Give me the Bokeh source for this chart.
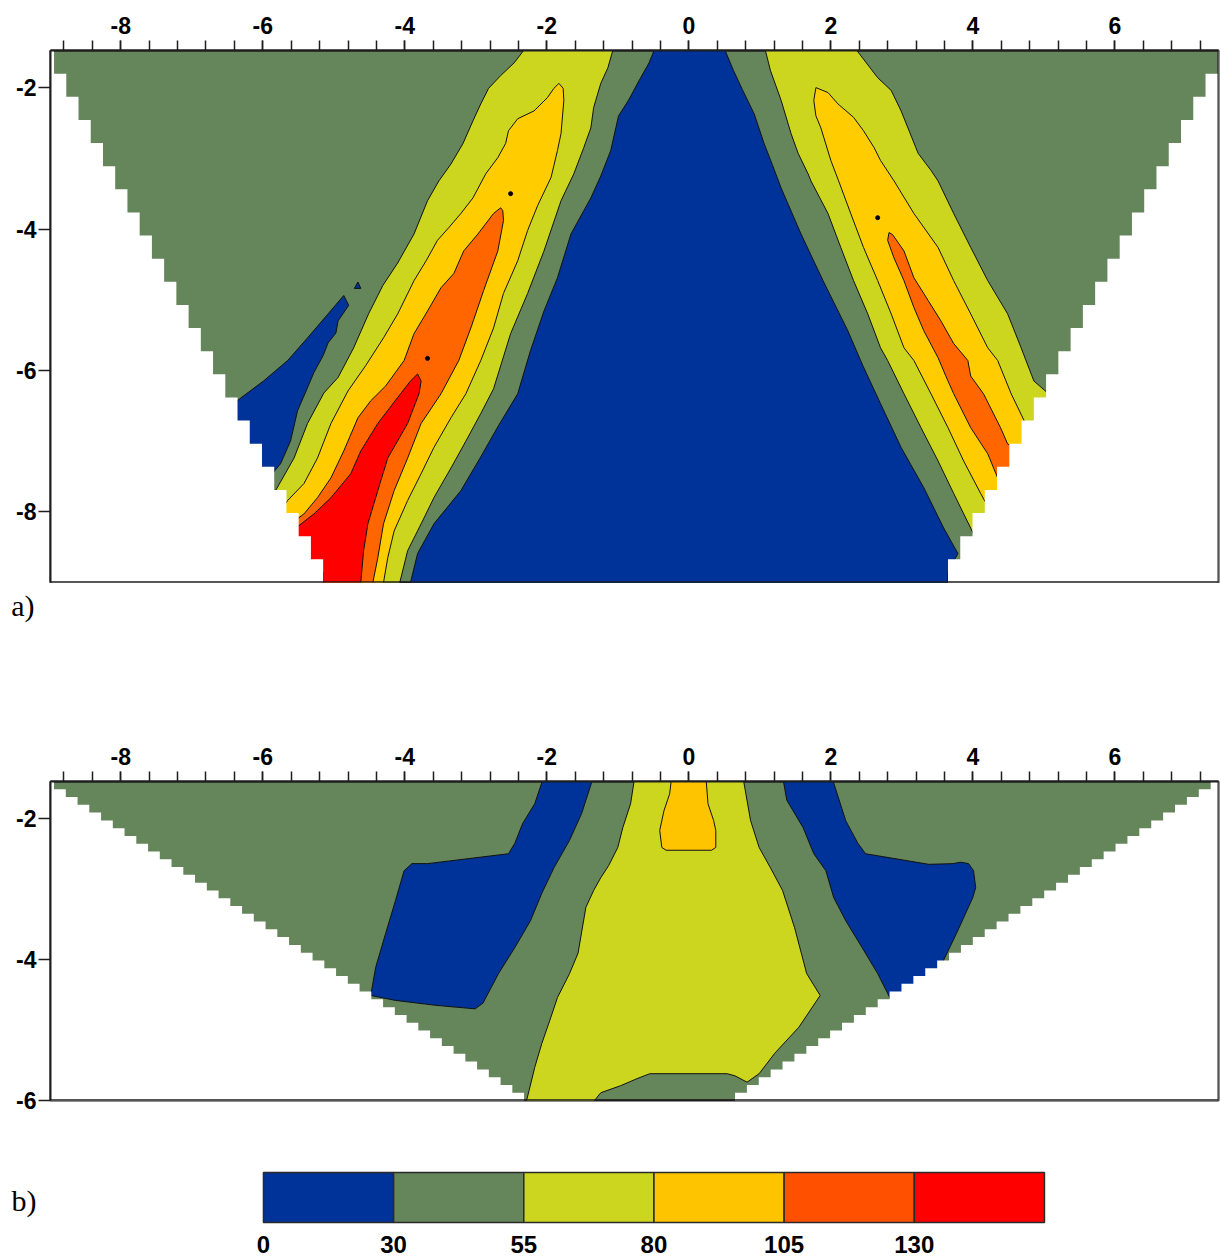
import numpy as np
from bokeh.plotting import figure
from bokeh.models import Range1d, SingleIntervalTicker, FixedTicker, Span
from bokeh.layouts import column
from bokeh.embed import file_html
from bokeh.resources import INLINE
from bokeh.core.properties import value

# ---------------- colours (class colours of the resistivity scale) ----------------
C_BLUE = "#003399"
C_GREEN = "#65855A"
C_YG = "#CCD61E"
C_YEL = "#FFCC00"
C_ORG = "#FF6600"
C_RED = "#FF0000"
CB_COLORS = ["#003399", "#65855A", "#CCD61E", "#FFC400", "#FF5000", "#FF0000"]
CB_LABELS = ["0", "30", "55", "80", "105", "130"]
CAPTIONS = ["a)", "b)"]

# ---------------- axes ----------------
X_RANGE = (-8.99, 7.46)
X_TICKS = [-8, -6, -4, -2, 0, 2, 4, 6]
X_TICK_LABELS = ["-8", "-6", "-4", "-2", "0", "2", "4", "6"]
A_Y_RANGE = (-9.0, -1.475)
A_Y_TICKS = [-8, -6, -4, -2]
A_Y_LABELS = ["-8", "-6", "-4", "-2"]
B_Y_RANGE = (-6.0, -1.475)
B_Y_TICKS = [-6, -4, -2]
B_Y_LABELS = ["-6", "-4", "-2"]

# ---------------- pseudosection domain corners (top, bottom) ----------------
A_DOM_LEFT = ((-8.94, -1.475), (-5.15, -9.0))
A_DOM_RIGHT = ((7.45, -1.475), (3.65, -9.0))
B_DOM_LEFT = ((-8.94, -1.475), (-2.32, -6.0))
B_DOM_RIGHT = ((7.35, -1.475), (0.65, -6.0))

# ---------------- panel a) contour regions ----------------
a_blue_x = [-0.46, -0.56, -0.70, -0.85, -0.99, -1.10, -1.24, -1.38, -1.66, -1.85,
            -2.04, -2.23, -2.41, -2.68, -2.94, -3.21, -3.59, -3.82, -3.92, -3.96,
            3.65, 3.65, 3.79, 3.59, 3.31, 2.99, 2.70, 2.45, 2.24, 1.89,
            1.58, 1.30, 1.18, 1.06, 0.92, 0.76, 0.63, 0.48]
a_blue_y = [-1.40, -1.65, -1.90, -2.18, -2.40, -2.89, -3.25, -3.56, -4.07, -4.69,
            -5.16, -5.72, -6.33, -6.78, -7.24, -7.70, -8.17, -8.59, -9.00, -9.20,
            -9.20, -8.85, -8.59, -8.23, -7.66, -7.09, -6.47, -5.93, -5.44, -4.73,
            -4.07, -3.42, -3.10, -2.79, -2.37, -2.04, -1.76, -1.40]

a_ygL_x = [-2.27, -2.46, -2.65, -2.82, -2.93, -3.04, -3.18, -3.35, -3.52, -3.68,
           -3.87, -4.10, -4.31, -4.51, -4.72, -4.94, -5.14, -5.37, -5.56, -5.82,
           -6.17, -5.15, -5.15,
           -4.12, -3.96, -3.77, -3.59, -3.35, -3.14, -2.93, -2.75,
           -2.51, -2.27, -2.04, -1.80, -1.62, -1.48, -1.38, -1.34, -1.24, -1.14, -1.05]
a_ygL_y = [-1.40, -1.65, -1.83, -2.01, -2.23, -2.47, -2.79, -3.08, -3.32, -3.60,
           -4.07, -4.48, -4.80, -5.20, -5.68, -6.10, -6.32, -6.75, -7.24, -7.70,
           -8.27, -8.85, -9.20,
           -9.20, -8.55, -8.17, -7.80, -7.38, -7.00, -6.61, -6.26,
           -5.48, -4.91, -4.31, -3.60, -3.22, -2.85, -2.57, -2.28, -1.94, -1.72, -1.40]

a_yelL_x = [-1.83, -1.90, -1.99, -2.18, -2.41, -2.54, -2.58, -2.69, -2.86, -3.04,
            -3.21, -3.38, -3.54, -3.70, -3.87, -4.10, -4.30, -4.55, -4.80, -5.04,
            -5.23, -5.42, -5.65, -6.03, -5.15, -5.15,
            -4.32, -4.30, -4.24, -4.15, -3.96,
            -3.77, -3.59, -3.35, -3.14, -2.93, -2.75, -2.61, -2.41, -2.27, -2.13,
            -1.94, -1.85, -1.80, -1.76, -1.77]
a_yelL_y = [-1.94, -2.01, -2.14, -2.33, -2.44, -2.61, -2.79, -2.99, -3.22, -3.56,
            -3.78, -3.98, -4.16, -4.45, -4.73, -5.20, -5.54, -5.93, -6.29, -6.75,
            -7.24, -7.60, -7.84, -8.41, -8.85, -9.20,
            -9.20, -9.00, -8.65, -8.27, -7.84,
            -7.46, -7.09, -6.67, -6.33, -5.86, -5.40, -4.91, -4.45, -4.02, -3.67,
            -3.27, -2.89, -2.65, -2.18, -2.01]

a_orgL_x = [-2.65, -2.75, -2.97, -3.17, -3.31, -3.49, -3.68, -3.87, -4.01, -4.27,
            -4.48, -4.66, -4.86, -5.04, -5.23, -5.42, -5.61, -5.89, -5.15, -5.15,
            -4.48, -4.45, -4.38, -4.30, -4.15, -3.96, -3.77, -3.49, -3.24, -3.07, -2.89,
            -2.69, -2.61, -2.62]
a_orgL_y = [-3.70, -3.78, -4.07, -4.31, -4.63, -4.83, -5.16, -5.48, -5.86, -6.22,
            -6.43, -6.67, -7.14, -7.52, -7.80, -8.03, -8.17, -8.55, -8.85, -9.20,
            -9.20, -9.00, -8.65, -8.17, -7.70, -7.24, -6.75, -6.33, -5.86, -5.40, -4.87,
            -4.31, -3.88, -3.74]

a_redL_x = [-3.82, -3.77, -3.80, -3.96, -4.24, -4.38, -4.52, -4.58, -4.62, -4.63,
            -5.15, -5.15, -5.75, -5.46, -5.28, -5.04, -4.76, -4.62, -4.38, -4.06, -3.92]
a_redL_y = [-6.05, -6.15, -6.33, -6.75, -7.24, -7.70, -8.17, -8.55, -9.00, -9.20,
            -9.20, -8.85, -8.41, -8.17, -8.03, -7.80, -7.46, -7.14, -6.75, -6.33, -6.15]

a_blueL_x = [-4.86, -4.79, -4.94, -4.97, -5.08, -5.15, -5.28, -5.39, -5.51, -5.61,
             -5.75, -5.89, -6.45, -6.87, -6.45, -6.31, -5.99, -5.65, -5.37, -5.08]
a_blueL_y = [-4.94, -5.08, -5.30, -5.47, -5.61, -5.79, -6.03, -6.29, -6.57, -7.00,
             -7.32, -7.49, -7.70, -6.71, -6.50, -6.39, -6.15, -5.86, -5.54, -5.20]

a_ygR_x = [1.06, 1.15, 1.30, 1.44, 1.54, 1.68, 1.72, 1.96, 2.14, 2.32,
           2.52, 2.70, 2.80, 3.03, 3.27, 3.51, 3.73, 3.97, 4.18, 5.94,
           5.10, 4.86, 4.68, 4.49, 4.21, 3.97, 3.73, 3.51, 3.41, 3.23,
           2.99, 2.85, 2.66, 2.31]
a_ygR_y = [-1.40, -1.76, -2.18, -2.65, -2.93, -3.22, -3.32, -3.78, -4.26, -4.73,
           -5.20, -5.68, -5.86, -6.33, -6.81, -7.28, -7.74, -8.23, -8.69, -8.69,
           -6.36, -6.15, -5.68, -5.20, -4.73, -4.26, -3.78, -3.32, -3.17, -2.93,
           -2.33, -2.04, -1.86, -1.40]

a_yelR_x = [1.79, 1.76, 1.79, 1.86, 2.00, 2.11, 2.28, 2.46, 2.66, 2.85,
            3.03, 3.17, 3.41, 3.65, 3.87, 4.11, 4.32, 5.24, 5.17, 4.77,
            4.54, 4.35, 4.21, 3.97, 3.73, 3.51, 3.17, 2.89, 2.70, 2.61,
            2.46, 2.32, 2.10, 1.96]
a_yelR_y = [-2.00, -2.18, -2.40, -2.57, -3.03, -3.32, -3.78, -4.26, -4.73, -5.20,
            -5.68, -5.86, -6.33, -6.81, -7.28, -7.74, -8.13, -8.13, -6.85, -6.81,
            -6.33, -5.86, -5.68, -5.20, -4.73, -4.26, -3.78, -3.32, -3.03, -2.85,
            -2.61, -2.42, -2.23, -2.07]

a_orgR_x = [2.82, 2.80, 2.89, 3.03, 3.17, 3.31, 3.51, 3.62, 3.73, 3.97,
            4.21, 4.35, 4.54, 4.96, 4.49, 4.39, 4.15, 3.97, 3.93, 3.73,
            3.55, 3.37, 3.17, 3.03, 2.87]
a_orgR_y = [-4.05, -4.16, -4.41, -4.73, -5.11, -5.44, -5.82, -6.08, -6.33, -6.81,
            -7.18, -7.52, -7.77, -7.28, -7.04, -6.81, -6.33, -6.08, -5.86, -5.62,
            -5.30, -5.01, -4.69, -4.31, -4.08]

a_speck_x = [-4.71, -4.66, -4.62]
a_speck_y = [-4.84, -4.75, -4.84]
a_dot_x = [-2.51, -3.68, 2.66]
a_dot_y = [-3.50, -5.83, -3.84]

# ---------------- panel b) contour regions ----------------
b_blueL_x = [-2.04, -2.17, -2.34, -2.45, -2.54, -3.68, -3.90, -4.01, -4.13, -4.27, -4.41, -4.48,
             -4.13, -3.56, -3.01, -2.90, -2.68, -2.45, -2.23, -2.07, -1.90, -1.68, -1.51, -1.34]
b_blueL_y = [-1.40, -1.79, -2.07, -2.35, -2.50, -2.64, -2.64, -2.74, -3.16, -3.63, -4.11, -4.51,
             -4.58, -4.65, -4.70, -4.62, -4.20, -3.83, -3.45, -3.06, -2.70, -2.31, -1.93, -1.40]

b_blueR_x = [1.32, 1.38, 1.61, 1.76, 1.93, 2.04, 2.21, 2.44, 2.66, 2.83, 2.99, 4.11,
             3.55, 3.77, 4.00, 4.04, 4.01, 3.94, 3.83, 3.72, 3.38, 2.49, 2.38, 2.21, 2.01]
b_blueR_y = [-1.40, -1.74, -2.13, -2.50, -2.74, -3.12, -3.45, -3.83, -4.20, -4.54, -4.87, -4.58,
             -4.09, -3.63, -3.12, -2.98, -2.74, -2.64, -2.62, -2.64, -2.65, -2.50, -2.35, -2.03, -1.40]

b_yg_x = [-0.76, -0.82, -0.93, -1.00, -1.13, -1.24, -1.34, -1.45, -1.56, -1.68, -1.85, -1.96,
          -2.07, -2.17, -2.25, -2.31, -1.41, -1.24, -0.96, -0.73, -0.55, 0.54, 0.65, 0.82,
          0.99, 1.21, 1.55, 1.85, 1.66, 1.49, 1.32, 1.15, 0.99, 0.87, 0.76]
b_yg_y = [-1.40, -1.79, -2.13, -2.41, -2.67, -2.84, -3.02, -3.26, -3.91, -4.20, -4.54, -4.87,
          -5.19, -5.53, -5.86, -6.10, -6.10, -5.89, -5.79, -5.69, -5.62, -5.62, -5.65, -5.74,
          -5.62, -5.33, -4.96, -4.51, -4.20, -3.55, -3.02, -2.70, -2.41, -2.03, -1.40]

b_yel_x = [-0.24, 0.24, 0.27, 0.35, 0.38, 0.38, 0.32, -0.32, -0.38, -0.41, -0.35, -0.27]
b_yel_y = [-1.40, -1.40, -1.79, -2.03, -2.17, -2.41, -2.45, -2.45, -2.41, -2.17, -1.89, -1.65]

PANEL_A_REGIONS = [
    (a_ygL_x, a_ygL_y, C_YG), (a_yelL_x, a_yelL_y, C_YEL), (a_orgL_x, a_orgL_y, C_ORG),
    (a_redL_x, a_redL_y, C_RED),
    (a_ygR_x, a_ygR_y, C_YG), (a_yelR_x, a_yelR_y, C_YEL), (a_orgR_x, a_orgR_y, C_ORG),
    (a_blue_x, a_blue_y, C_BLUE), (a_blueL_x, a_blueL_y, C_BLUE), (a_speck_x, a_speck_y, C_BLUE),
]
PANEL_B_REGIONS = [
    (b_yg_x, b_yg_y, C_YG), (b_yel_x, b_yel_y, "#FFC400"),
    (b_blueL_x, b_blueL_y, C_BLUE), (b_blueR_x, b_blueR_y, C_BLUE),
]

AXIS_FONT = "Liberation Sans"
CAPTION_FONT = "Liberation Serif"
LINE_DARK = "#1e1e1e"
PAGE_W = 1220


def stair_mask(top, bottom, rows, side, yr):
    """White area outside the stepped pseudosection edge."""
    (xt, yt), (xb, yb) = top, bottom
    k = np.arange(rows)
    edge_x = xt + (xb - xt) * k / (rows - 1)
    row_y = yt + (yb - yt) * np.arange(rows + 1) / rows
    hi, lo = yr[1] + 1.0, yr[0] - 1.0
    row_y[0], row_y[-1] = hi, lo
    xs, ys = [], []
    for i in range(rows):
        xs += [edge_x[i], edge_x[i]]
        ys += [row_y[i], row_y[i + 1]]
    outer = X_RANGE[0] - 1.0 if side == "left" else X_RANGE[1] + 1.0
    xs += [outer, outer]
    ys += [lo, hi]
    return xs, ys


def make_panel(height, yr, yticks, ylabels, b_top, b_bottom, regions, masks):
    p = figure(width=PAGE_W, height=height, x_range=Range1d(*X_RANGE), y_range=Range1d(*yr),
               x_axis_location="above", output_backend="svg", toolbar_location=None,
               min_border_left=50, min_border_right=2, min_border_top=b_top,
               min_border_bottom=b_bottom)
    p.background_fill_color = C_GREEN
    p.border_fill_color = "white"
    p.grid.visible = False
    p.outline_line_color = LINE_DARK
    p.outline_line_width = 2

    for xs, ys, col in regions:
        p.patch(xs, ys, fill_color=col, line_color="#111111", line_width=1)
    for top, bottom, rows, side in masks:
        mx, my = stair_mask(top, bottom, rows, side, yr)
        p.patch(mx, my, fill_color="white", line_color=None)

    # frame edges drawn over the masked areas
    p.add_layout(Span(location=yr[0], dimension="width", line_color=LINE_DARK, line_width=2.5))
    p.add_layout(Span(location=X_RANGE[1], dimension="height", line_color=LINE_DARK, line_width=2))

    xa = p.xaxis[0]
    xa.ticker = SingleIntervalTicker(interval=2, num_minor_ticks=5)
    xa.major_label_overrides = dict(zip(X_TICKS, X_TICK_LABELS))
    xa.major_tick_in = 0
    xa.major_tick_out = 10
    xa.minor_tick_in = 0
    xa.minor_tick_out = 10
    xa.major_tick_line_color = LINE_DARK
    xa.minor_tick_line_color = LINE_DARK
    xa.major_tick_line_width = 1.5
    xa.minor_tick_line_width = 1.5
    xa.axis_line_color = LINE_DARK
    xa.axis_line_width = 2
    xa.major_label_standoff = 7
    xa.major_label_text_font = AXIS_FONT
    xa.major_label_text_font_style = "bold"
    xa.major_label_text_font_size = "23px"
    xa.major_label_text_color = "black"

    ya = p.yaxis[0]
    ya.ticker = FixedTicker(ticks=yticks)
    ya.major_label_overrides = dict(zip(yticks, ylabels))
    ya.major_tick_in = 0
    ya.major_tick_out = 12
    ya.minor_tick_out = 0
    ya.minor_tick_in = 0
    ya.major_tick_line_color = LINE_DARK
    ya.major_tick_line_width = 1.5
    ya.axis_line_color = LINE_DARK
    ya.axis_line_width = 2
    ya.major_label_standoff = 2
    ya.major_label_text_font = AXIS_FONT
    ya.major_label_text_font_style = "bold"
    ya.major_label_text_font_size = "23px"
    ya.major_label_text_color = "black"
    return p


def caption_axis(p, tick, caption, standoff):
    """Panel caption written as the single label of an otherwise hidden left axis."""
    ax = p.yaxis[0]
    ax.ticker = FixedTicker(ticks=[tick])
    ax.major_label_overrides = {tick: caption}
    ax.axis_line_color = None
    ax.major_tick_line_color = None
    ax.minor_tick_line_color = None
    ax.major_tick_out = 0
    ax.major_label_standoff = standoff
    ax.major_label_text_font = CAPTION_FONT
    ax.major_label_text_font_size = "30px"
    ax.major_label_text_font_style = "normal"
    ax.major_label_text_color = "black"


pa = make_panel(583, A_Y_RANGE, A_Y_TICKS, A_Y_LABELS, 50, 1, PANEL_A_REGIONS,
                [(A_DOM_LEFT[0], A_DOM_LEFT[1], 23, "left"),
                 (A_DOM_RIGHT[0], A_DOM_RIGHT[1], 23, "right")])
pa.scatter(a_dot_x, a_dot_y, size=4, marker="circle", fill_color="black", line_color="black")

pb = make_panel(374, B_Y_RANGE, B_Y_TICKS, B_Y_LABELS, 41, 14, PANEL_B_REGIONS,
                [(B_DOM_LEFT[0], B_DOM_LEFT[1], 41, "left"),
                 (B_DOM_RIGHT[0], B_DOM_RIGHT[1], 41, "right")])

# gap between panels holding the "a)" caption (vertical units: pixels from the gap bottom)
gap = figure(width=PAGE_W, height=157, x_range=Range1d(*X_RANGE), y_range=Range1d(0, 157),
             x_axis_location=None, y_axis_location="left", output_backend="svg",
             toolbar_location=None, min_border_left=50, min_border_right=2,
             min_border_top=0, min_border_bottom=0)
gap.outline_line_color = None
gap.grid.visible = False
caption_axis(gap, 135, CAPTIONS[0], 16)

# colour scale (x: class index, y: box height units)
cb = figure(width=PAGE_W, height=145, x_range=Range1d(-1.636, 7.337), y_range=Range1d(-0.74, 2.16),
            x_axis_location=None, y_axis_location="left", output_backend="svg",
            toolbar_location=None, min_border_left=50, min_border_right=2,
            min_border_top=0, min_border_bottom=0)
cb.outline_line_color = None
cb.grid.visible = False
idx = np.arange(len(CB_COLORS))
cb.quad(left=idx, right=idx + 1, bottom=0, top=1, fill_color=CB_COLORS,
        line_color="#2a2a2a", line_width=1.5)
cb.text(x=idx, y=[-0.44] * len(idx), text=CB_LABELS, text_font=value(AXIS_FONT),
        text_font_style="bold", text_font_size="24px", text_align="center",
        text_baseline="middle", text_color="black")
caption_axis(cb, 0.44, CAPTIONS[1], 14)

layout = column(pa, gap, pb, cb, spacing=0)
open("out.html", "w").write(file_html(layout, INLINE))
